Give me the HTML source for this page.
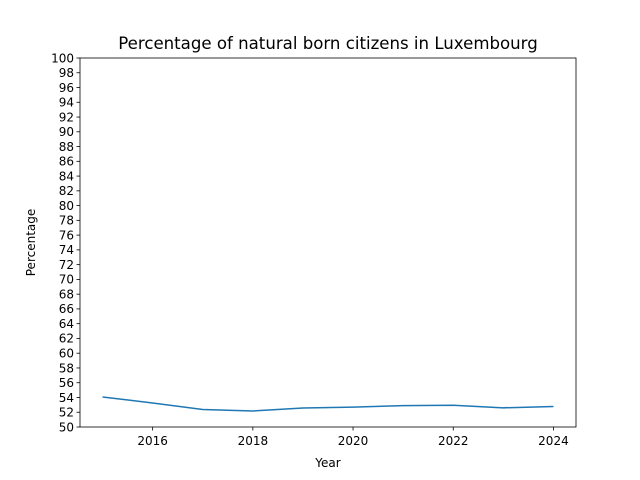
<!DOCTYPE html>
<html><head><meta charset="utf-8"><style>body{margin:0;background:#fff}svg{display:block;font-family:"DejaVu Sans","Liberation Sans",sans-serif}</style></head>
<body>
<svg id="chart" width="640" height="480"></svg>
<script>
const years=[2015,2016,2017,2018,2019,2020,2021,2022,2023,2024];
const percentages=[54.07,53.25,52.37,52.17,52.57,52.7,52.9,52.95,52.6,52.78];
const xTicks=[2016,2018,2020,2022,2024];
const yTicks=[50,52,54,56,58,60,62,64,66,68,70,72,74,76,78,80,82,84,86,88,90,92,94,96,98,100];
const L=80,R=576,T=58,B=427,xmin=2014.55,xmax=2024.45,ymin=50,ymax=100;
const sx=v=>L+(v-xmin)/(xmax-xmin)*(R-L);
const sy=v=>B-(v-ymin)/(ymax-ymin)*(B-T);
const svg=document.getElementById('chart');const NS='http://www.w3.org/2000/svg';
function mk(t,a,txt){const e=document.createElementNS(NS,t);for(const k in a)e.setAttribute(k,a[k]);if(txt!==undefined)e.textContent=txt;svg.appendChild(e);return e;}
let e;
e=mk('text',{x:328,y:49,'text-anchor':'middle','font-size':16.6},'Percentage of natural born citizens in Luxembourg');


xTicks.forEach(v=>{const x=sx(v);
e=mk('line',{x1:x,x2:x,y1:B,y2:B+3.5,stroke:'#000','stroke-width':0.8});


e=mk('text',{x:x,y:B+18,'text-anchor':'middle','font-size':12},v);

});
yTicks.forEach(v=>{const y=sy(v);
e=mk('line',{x1:L-3.5,x2:L,y1:y,y2:y,stroke:'#000','stroke-width':0.8});


e=mk('text',{x:L-6,y:y+4.3,'text-anchor':'end','font-size':12},v);

});
e=mk('polyline',{points:years.map((y,i)=>sx(y)+','+sy(percentages[i])).join(' '),fill:'none',stroke:'#1f77b4','stroke-width':1.5});


e=mk('rect',{x:L,y:T,width:R-L,height:B-T,fill:'none',stroke:'#000','stroke-width':0.8});


e=mk('text',{x:328,y:467,'text-anchor':'middle','font-size':12},'Year');


e=mk('text',{x:0,y:0,'text-anchor':'middle','font-size':12,transform:'translate(35,242.5) rotate(-90)'},'Percentage');


</script>
</body></html>
